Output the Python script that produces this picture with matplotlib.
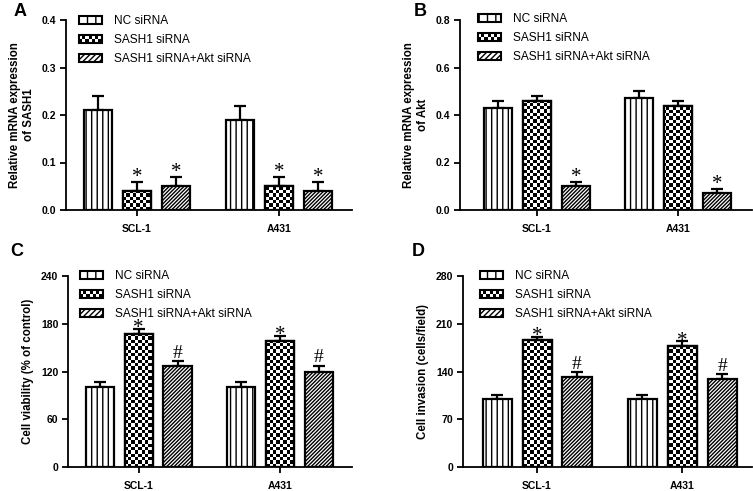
import numpy as np
import matplotlib
matplotlib.use("Agg")
import matplotlib.pyplot as plt
from matplotlib.patches import Rectangle, Patch
from matplotlib.legend_handler import HandlerBase

plt.rcParams["font.family"] = ["Liberation Sans", "DejaVu Sans"]
plt.rcParams["hatch.linewidth"] = 1.0

# data
groups = ["SCL-1", "A431"]
labels = ["NC siRNA", "SASH1 siRNA", "SASH1 siRNA+Akt siRNA"]

sash1_mean = [[0.21, 0.19], [0.04, 0.05], [0.05, 0.04]]
sash1_err = [[0.03, 0.03], [0.02, 0.02], [0.02, 0.02]]
sash1_mark = [["", ""], ["*", "*"], ["*", "*"]]

akt_mean = [[0.43, 0.47], [0.46, 0.44], [0.10, 0.07]]
akt_err = [[0.03, 0.03], [0.02, 0.02], [0.02, 0.02]]
akt_mark = [["", ""], ["", ""], ["*", "*"]]

viab_mean = [[100, 100], [167, 158], [127, 120]]
viab_err = [[7, 7], [6, 7], [6, 7]]
viab_mark = [["", ""], ["*", "*"], ["#", "#"]]

inv_mean = [[100, 100], [186, 177], [132, 129]]
inv_err = [[6, 6], [5, 7], [7, 7]]
inv_mark = [["", ""], ["*", "*"], ["#", "#"]]

W, H = 753, 491
fig = plt.figure(figsize=(W / 100, H / 100), dpi=100)


def px_axes(l, t, r, b):
    return fig.add_axes([l / W, 1 - b / H, (r - l) / W, (b - t) / H])


def checker(ax, bar, cell_px=3.3):
    # checkerboard fill clipped to the bar
    x0, x1 = ax.get_xlim()
    y0, y1 = ax.get_ylim()
    bb = ax.get_window_extent()
    nx = int(bb.width / cell_px)
    ny = int(bb.height / cell_px)
    img = (np.add.outer(np.arange(ny), np.arange(nx)) % 2).astype(float)
    im = ax.imshow(img, cmap="gray", extent=(x0, x1, y0, y1), aspect="auto",
                   interpolation="nearest", zorder=2, origin="lower")
    im.set_clip_path(bar)
    ax.set_xlim(x0, x1)
    ax.set_ylim(y0, y1)


class CheckerHandler(HandlerBase):
    def create_artists(self, legend, orig_handle, xdescent, ydescent,
                       width, height, fontsize, trans):
        arts = []
        n, m = 7, 2
        cw, ch = width / n, height / m
        for i in range(n):
            for j in range(m):
                if (i + j) % 2 == 0:
                    arts.append(Rectangle((-xdescent + i * cw, -ydescent + j * ch),
                                          cw, ch, facecolor="black",
                                          edgecolor="none", transform=trans))
        arts.append(Rectangle((-xdescent, -ydescent), width, height,
                              facecolor="none", edgecolor="black", lw=1.5,
                              transform=trans))
        return arts


def panel(rect, means, errs, marks, ylim, yticks, ylabel, letter, letter_xy,
          xlim, leg_xy, fmt, star_dy):
    ax = px_axes(*rect)
    ax.set_xlim(*xlim)
    ax.set_ylim(*ylim)
    x = np.arange(len(groups))
    off = [-0.275, 0, 0.275]
    hatches = ["|||", None, "/////////"]
    for k in range(3):
        bars = ax.bar(x + off[k], means[k], width=0.2, facecolor="white",
                      edgecolor="black", linewidth=1.6, hatch=hatches[k],
                      zorder=3 if k != 1 else 1)
        if k == 1:
            for b in bars:
                checker(ax, b)
            ax.bar(x + off[k], means[k], width=0.2, facecolor="none",
                   edgecolor="black", linewidth=1.6, zorder=3)
        ax.errorbar(x + off[k], means[k], yerr=[np.zeros(2), errs[k]],
                    fmt="none", ecolor="black", elinewidth=1.6, capsize=4,
                    capthick=1.6, zorder=2.5)
        for i in range(2):
            m = marks[k][i]
            if m:
                star = m == "*"
                ax.annotate(m, xy=(x[i] + off[k], means[k][i] + errs[k][i]),
                            xytext=(0, star_dy if star else 2.5),
                            textcoords="offset points", ha="center",
                            va="baseline", fontsize=15 if star else 14,
                            family=["Liberation Serif", "DejaVu Serif"],
                            zorder=4)
    ax.set_xticks(x)
    ax.set_xticklabels(groups, fontsize=7.5, fontweight="bold")
    ax.set_yticks(yticks)
    ax.set_yticklabels([fmt.format(v) for v in yticks], fontsize=7.5,
                       fontweight="bold")
    ax.set_ylabel(ylabel, fontsize=8.3, fontweight="bold", labelpad=5)
    for s in ["top", "right"]:
        ax.spines[s].set_visible(False)
    for s in ["left", "bottom"]:
        ax.spines[s].set_linewidth(1.3)
    ax.tick_params(axis="both", width=1.3, length=4, direction="out", pad=3)
    ax.tick_params(axis="x", pad=6)

    handles = [Patch(facecolor="white", edgecolor="black", hatch="||", lw=1.5),
               Patch(facecolor="black"),
               Patch(facecolor="white", edgecolor="black", hatch="//////", lw=1.5)]
    ax.legend(handles, labels, loc="upper left", frameon=False, fontsize=8.6,
              bbox_to_anchor=(leg_xy[0] / W, 1 - leg_xy[1] / H),
              bbox_transform=fig.transFigure, borderpad=0, borderaxespad=0,
              handlelength=1.9, handleheight=0.7, handletextpad=1.0,
              labelspacing=0.6, handler_map={handles[1]: CheckerHandler()})
    fig.text(letter_xy[0] / W, 1 - letter_xy[1] / H, letter, fontsize=13,
             fontweight="bold", ha="left", va="top")
    return ax


panel((66, 20, 352, 210), sash1_mean, sash1_err, sash1_mark, (0, 0.4),
      [0.0, 0.1, 0.2, 0.3, 0.4], "Relative mRNA expression\nof SASH1", "A",
      (14, 3), (-0.5, 1.514), (79, 15), "{:.1f}", 0)
panel((460, 20, 752, 210), akt_mean, akt_err, akt_mark, (0, 0.8),
      [0.0, 0.2, 0.4, 0.6, 0.8], "Relative mRNA expression\nof Akt", "B",
      (414, 3), (-0.546, 1.525), (478, 13), "{:.1f}", 0)
panel((68, 276, 352, 467), viab_mean, viab_err, viab_mark, (0, 240),
      [0, 60, 120, 180, 240], "Cell viability (% of control)", "C",
      (10, 243), (-0.5, 1.51), (80, 270), "{:d}", -3)
panel((463, 276, 752, 467), inv_mean, inv_err, inv_mark, (0, 280),
      [0, 70, 140, 210, 280], "Cell invasion (cells/field)", "D",
      (412, 243), (-0.51, 1.48), (480, 270), "{:d}", -3)

fig.savefig("out.png", dpi=100)
